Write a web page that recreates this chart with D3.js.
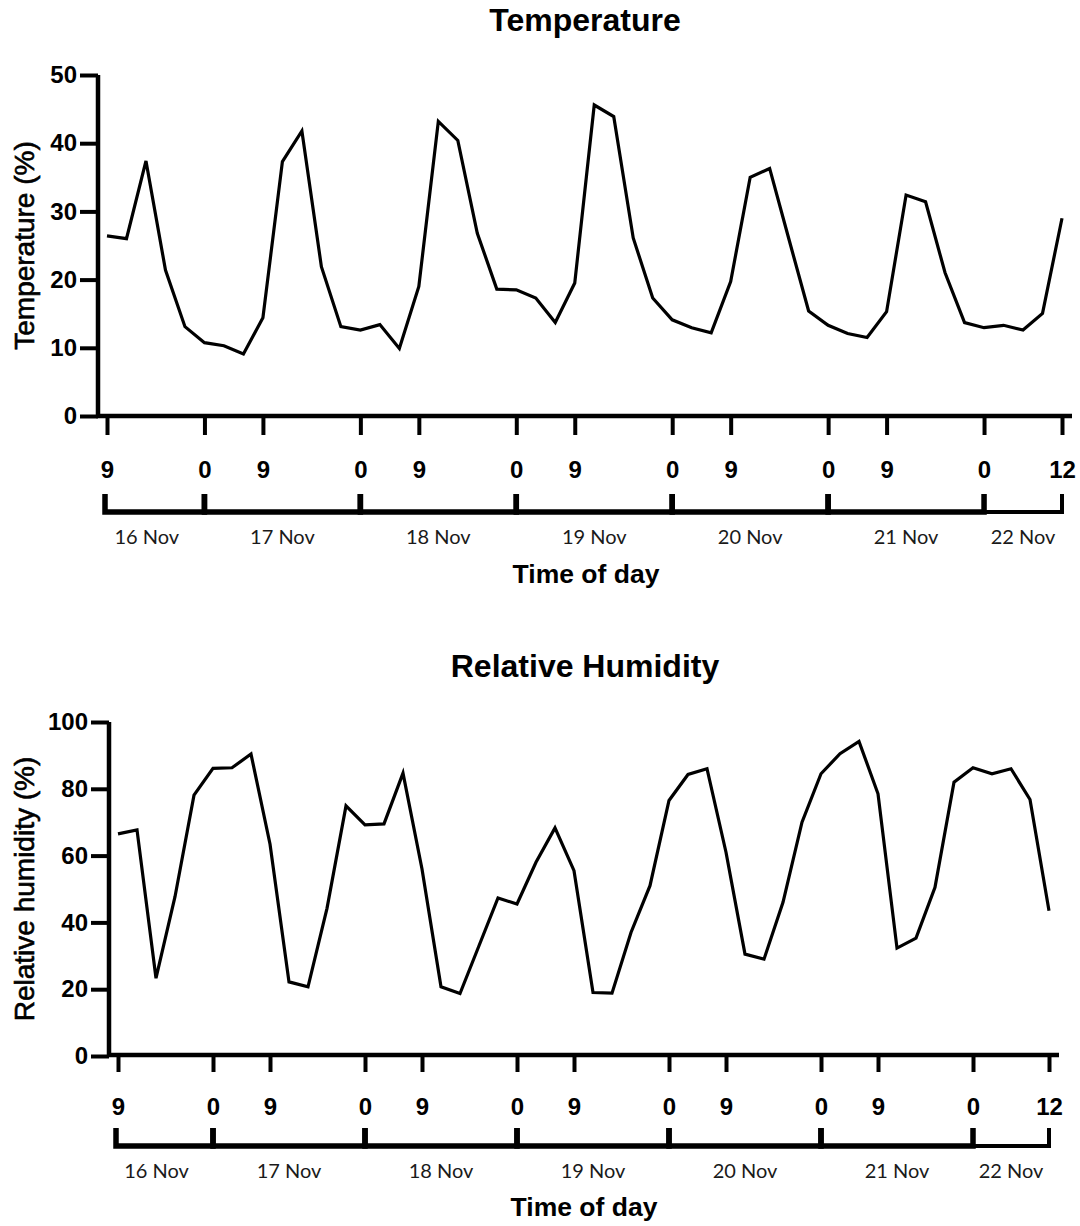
<!DOCTYPE html>
<html>
<head>
<meta charset="utf-8">
<script src="https://cdn.jsdelivr.net/npm/d3@7"></script>
<style>
  html, body { margin: 0; padding: 0; background: #fff; }
  svg { display: block; }
</style>
</head>
<body>
<svg id="chart" width="1080" height="1226"></svg>
<script>
// Field log: readings every 3 hours, 16 Nov 09:00 to 22 Nov 12:00
const startTime = "2021-11-16T09:00:00Z";
const endTime   = "2021-11-22T12:00:00Z";
const stepHours = 3;

const temperature = [
  26.4, 26.0, 37.4, 21.4, 13.1, 10.75, 10.3, 9.1, 14.4, 37.3,
  41.8, 21.9, 13.1, 12.6, 13.4, 9.9, 19.0, 43.2, 40.4, 26.8,
  18.6, 18.5, 17.3, 13.7, 19.5, 45.6, 43.9, 26.1, 17.3, 14.1,
  12.95, 12.2, 19.7, 35.0, 36.3, 25.8, 15.4, 13.3, 12.1, 11.5,
  15.3, 32.4, 31.4, 21.0, 13.7, 12.95, 13.3, 12.6, 15.05, 29.0
];

const humidity = [
  66.5, 67.7, 23.3, 47.7, 78.1, 86.1, 86.3, 90.4, 63.5, 22.2,
  20.7, 44.2, 74.9, 69.2, 69.5, 84.7, 56.0, 20.7, 18.7, 33.0,
  47.3, 45.5, 58.0, 68.3, 55.5, 19.0, 18.8, 37.0, 51.0, 76.5,
  84.3, 86.0, 61.0, 30.5, 29.0, 46.0, 70.0, 84.5, 90.5, 94.2,
  78.5, 32.3, 35.3, 50.5, 82.0, 86.3, 84.5, 86.0, 76.8, 43.5
];

// hour-of-day ticks (labelled with the hour)
const hourTicks = [
  "2021-11-16T09:00:00Z", "2021-11-17T00:00:00Z", "2021-11-17T09:00:00Z",
  "2021-11-18T00:00:00Z", "2021-11-18T09:00:00Z", "2021-11-19T00:00:00Z",
  "2021-11-19T09:00:00Z", "2021-11-20T00:00:00Z", "2021-11-20T09:00:00Z",
  "2021-11-21T00:00:00Z", "2021-11-21T09:00:00Z", "2021-11-22T00:00:00Z",
  "2021-11-22T12:00:00Z"
];

// day brackets below the hour axis
const dayBreaks = [
  "2021-11-16T09:00:00Z", "2021-11-17T00:00:00Z", "2021-11-18T00:00:00Z",
  "2021-11-19T00:00:00Z", "2021-11-20T00:00:00Z", "2021-11-21T00:00:00Z",
  "2021-11-22T00:00:00Z", "2021-11-22T12:00:00Z"
];
const dayLabels = ["16 Nov", "17 Nov", "18 Nov", "19 Nov", "20 Nov", "21 Nov", "22 Nov"];

const tempTicks = [0, 10, 20, 30, 40, 50];
const humTicks  = [0, 20, 40, 60, 80, 100];

const BOLD = "'Liberation Sans', Arial, sans-serif";
const DATE_FONT = "Lato, 'Open Sans', sans-serif";

const svg = d3.select("#chart");
const t0 = new Date(startTime).getTime();

function drawPanel(values, yTicks, yMax, title, yTitle, L) {
  const times = values.map((_, i) => new Date(t0 + i * stepHours * 3600e3));
  const x = d3.scaleUtc().domain([new Date(startTime), new Date(endTime)]).range([L.x0, L.x1]);
  const y = d3.scaleLinear().domain([0, yMax]).range([L.yBottom, L.yTop]);
  const g = svg.append("g");

  // title
  g.append("text")
    .attr("x", L.titleX).attr("y", L.titleY)
    .attr("text-anchor", "middle")
    .style("font", `bold 32px ${BOLD}`)
    .text(title);

  // y axis
  const yAxis = g.append("g")
    .attr("transform", `translate(${L.axisX},0)`)
    .call(d3.axisLeft(y).tickValues(yTicks).tickSize(18).tickSizeOuter(0).tickPadding(3));
  yAxis.select(".domain").remove();
  yAxis.selectAll(".tick line").attr("stroke", "#000").attr("stroke-width", 4);
  yAxis.selectAll(".tick text")
    .style("font", `bold 24px ${BOLD}`).attr("fill", "#000");

  // x axis (hour of day)
  const xAxis = g.append("g")
    .attr("transform", `translate(0,${L.axisY})`)
    .call(d3.axisBottom(x)
      .tickValues(hourTicks.map(s => new Date(s)))
      .tickFormat(d => d.getUTCHours())
      .tickSize(L.xTickLen).tickSizeOuter(0).tickPadding(L.xLabelPad));
  xAxis.select(".domain").remove();
  xAxis.selectAll(".tick line").attr("stroke", "#000").attr("stroke-width", 4)
    .attr("y1", 2);
  xAxis.selectAll(".tick text")
    .style("font", `bold 24px ${BOLD}`).attr("fill", "#000");

  // axis lines
  g.append("line")
    .attr("x1", L.axisX).attr("x2", L.axisX)
    .attr("y1", y(yMax)).attr("y2", L.axisY + 2)
    .attr("stroke", "#000").attr("stroke-width", 4.5);
  g.append("line")
    .attr("x1", L.axisX - 2).attr("x2", L.axisEnd)
    .attr("y1", L.axisY).attr("y2", L.axisY)
    .attr("stroke", "#000").attr("stroke-width", 4.5);

  // day brackets
  const breaks = dayBreaks.map(s => new Date(s));
  const segs = dayLabels.map((lab, i) => ({ lab, a: breaks[i], b: breaks[i + 1] }));
  g.selectAll(".bracket").data(segs).join("path")
    .attr("class", "bracket")
    .attr("fill", "none").attr("stroke", "#000")
    .attr("stroke-width", (d, i) => i === segs.length - 1 ? 4 : 5.5)
    .attr("d", (d, i) => {
      const xa = x(d.a) - (i === 0 ? 2 : 0), xb = x(d.b);
      return `M${xa},${L.brTop}V${L.brLine}H${xb}V${L.brTop}`;
    });
  g.selectAll(".daylab").data(segs).join("text")
    .attr("class", "daylab")
    .attr("x", (d, i) => (x(d.a) + x(d.b)) / 2 - (i === 0 ? 9 : 0))
    .attr("y", L.dayY)
    .attr("text-anchor", "middle")
    .attr("fill", "#1a1a1a")
    .style("font", `20px ${DATE_FONT}`)
    .text(d => d.lab);

  // x title
  g.append("text")
    .attr("x", L.xTitleX).attr("y", L.xTitleY)
    .attr("text-anchor", "middle")
    .style("font", `bold 26.5px ${BOLD}`)
    .text("Time of day");

  // y title
  g.append("text")
    .attr("transform", `translate(${L.yTitleX},${(L.yTop + L.yBottom) / 2}) rotate(-90)`)
    .attr("text-anchor", "middle")
    .attr("stroke", "#000").attr("stroke-width", 0.6)
    .style("font", `28px ${BOLD}`)
    .text(yTitle);

  // series line
  const line = d3.line().x((d, i) => x(times[i])).y(d => y(d));
  g.append("path")
    .datum(values)
    .attr("fill", "none")
    .attr("stroke", "#000")
    .attr("stroke-width", 3.2)
    .attr("stroke-linejoin", "miter")
    .attr("d", line);
}

drawPanel(temperature, tempTicks, 50, "Temperature", "Temperature (%)", {
  x0: 107, x1: 1062, yTop: 75, yBottom: 416,
  axisX: 98, axisY: 416, axisEnd: 1072,
  xTickLen: 19, xLabelPad: 26,
  brTop: 494, brLine: 512,
  dayY: 544, titleX: 585, titleY: 31,
  xTitleX: 586, xTitleY: 583, yTitleX: 34
});

drawPanel(humidity, humTicks, 100, "Relative Humidity", "Relative humidity (%)", {
  x0: 118, x1: 1049, yTop: 722, yBottom: 1056,
  axisX: 109, axisY: 1055, axisEnd: 1059,
  xTickLen: 17, xLabelPad: 26,
  brTop: 1128, brLine: 1146,
  dayY: 1178, titleX: 585, titleY: 677,
  xTitleX: 584, xTitleY: 1216, yTitleX: 34
});
</script>
</body>
</html>
